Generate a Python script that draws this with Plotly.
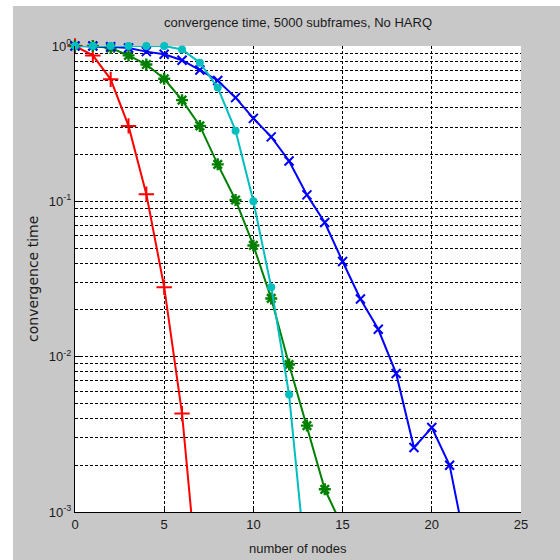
import plotly.graph_objects as go

# ---- data ----
red_x = [0, 1, 2, 3, 4, 5, 6, 7]
red_y = [1.0, 0.87, 0.61, 0.306, 0.111, 0.028, 0.0043, 0.00025]

green_x = list(range(0, 16))
green_y = [1.0, 1.0, 0.97, 0.87, 0.76, 0.615, 0.448, 0.306, 0.173, 0.102,
           0.052, 0.0237, 0.0089, 0.0036, 0.0014, 0.0008]

blue_x = list(range(0, 23))
blue_y = [1.0, 1.0, 0.99, 0.97, 0.92, 0.885, 0.81, 0.70, 0.60, 0.465,
          0.342, 0.26, 0.182, 0.11, 0.073, 0.041, 0.0235, 0.015, 0.0078,
          0.0026, 0.0035, 0.0020, 0.00053]

cyan_x = list(range(0, 14))
cyan_y = [1.0, 1.0, 1.0, 1.0, 1.0, 1.0, 0.95, 0.78, 0.54, 0.285, 0.1,
          0.028, 0.0057, 0.00039]

x_ticks = [0, 5, 10, 15, 20, 25]
y_ticks = [1e-3, 1e-2, 1e-1, 1]
y_ticktext = ["10<sup>-3</sup>", "10<sup>-2</sup>", "10<sup>-1</sup>", "10<sup>0</sup>"]

title_text = "convergence time, 5000 subframes, No HARQ"
xlabel = "number of nodes"
ylabel = "convergence time"

YMIN = 1e-3
YMAX = 1.0

series = [
    (red_x, red_y, "#ff0000", "cross-thin-open", 11, 2),
    (green_x, green_y, "#008000", "asterisk-open", 10, 2),
    (blue_x, blue_y, "#0000ff", "x-thin-open", 9, 2),
    (cyan_x, cyan_y, "#00bfbf", "circle", 8, 2),
]

fig = go.Figure()
for xs, ys, col, sym, size, lw in series:
    fig.add_trace(go.Scatter(x=xs, y=ys, mode="lines",
                             line=dict(color=col, width=lw),
                             showlegend=False, hoverinfo="skip"))
    mx = [x for x, y in zip(xs, ys) if YMIN <= y <= YMAX]
    my = [y for y in ys if YMIN <= y <= YMAX]
    mk = dict(symbol=sym, size=size, color=col)
    if sym.endswith("open"):
        mk["line"] = dict(color=col, width=2.4 if sym.startswith("asterisk") else 2)
    fig.add_trace(go.Scatter(x=mx, y=my, mode="markers", marker=mk,
                             cliponaxis=False, showlegend=False))

minor_vals = [k * 10 ** e for e in (-3, -2, -1) for k in range(2, 10)]

font = "Liberation Sans, Arial, sans-serif"

fig.update_xaxes(
    range=[0, 25], tickvals=x_ticks, ticks="inside", ticklen=5,
    tickcolor="black", showline=True, linecolor="black", linewidth=1,
    showgrid=True, gridcolor="black", griddash="3px,2px", gridwidth=1,
    zeroline=False, tickfont=dict(family=font, size=13, color="#1a1a1a"),
)
fig.update_yaxes(
    type="log", range=[-3, 0], tickvals=y_ticks, ticktext=y_ticktext,
    ticks="inside", ticklen=5, tickcolor="black", showline=True,
    linecolor="black", linewidth=1, showgrid=True, gridcolor="black",
    griddash="3px,2px", gridwidth=1, zeroline=False,
    tickfont=dict(family=font, size=13, color="#1a1a1a"),
    minor=dict(tickvals=minor_vals, showgrid=True, gridcolor="black",
               griddash="3px,2px", gridwidth=1, ticks="inside", ticklen=3,
               tickcolor="black"),
)

L, R, T, B = 75, 39, 46, 48
W = H = 560
pw, ph = W - L - R, H - T - B

def px_x(p):
    return (p - L) / pw

def px_y(p):
    return (H - B - p) / ph

fig.update_layout(
    width=W, height=H, margin=dict(l=L, r=R, t=T, b=B, autoexpand=False),
    paper_bgcolor="#c8c8c8", plot_bgcolor="white",
    title=dict(text=title_text, x=0.5, xref="paper", y=1 - 22 / H,
               yref="container", yanchor="middle", xanchor="center",
               font=dict(family=font, size=13, color="#1a1a1a")),
    font=dict(family=font, size=13, color="#1a1a1a"),
    shapes=[
        dict(type="rect", xref="paper", yref="paper", x0=px_x(0), x1=px_x(W),
             y0=px_y(6), y1=px_y(0), fillcolor="white", line=dict(width=0),
             layer="above"),
        dict(type="rect", xref="paper", yref="paper", x0=px_x(0), x1=px_x(13),
             y0=px_y(H), y1=px_y(0), fillcolor="white", line=dict(width=0),
             layer="above"),
    ],
    annotations=[
        dict(text=xlabel, xref="paper", yref="paper", x=0.5, y=px_y(548),
             showarrow=False, xanchor="center", yanchor="middle",
             font=dict(family=font, size=13, color="#1a1a1a")),
        dict(text=ylabel, xref="paper", yref="paper", x=px_x(33), y=0.5,
             showarrow=False, xanchor="center", yanchor="middle", textangle=-90,
             font=dict(family="DejaVu Sans, sans-serif", size=14, color="#1a1a1a")),
    ],
)

fig.write_html("out.html")
